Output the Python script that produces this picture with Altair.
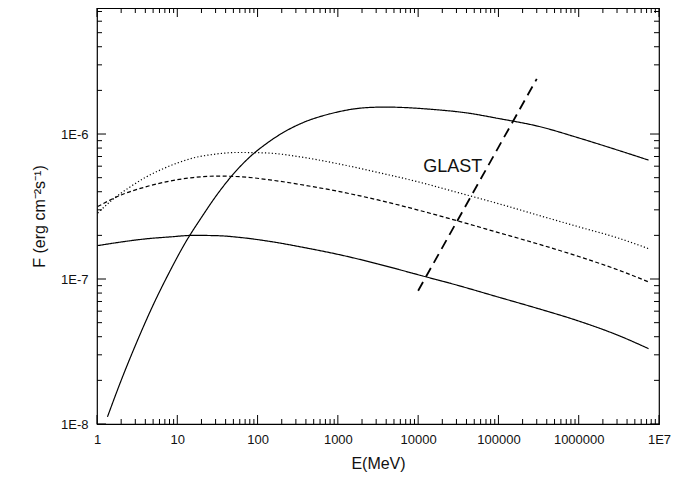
import math
import altair as alt
import pandas as pd

# ---- curve data (E in MeV, F in erg cm^-2 s^-1) ----
steep_E = [1.35, 2.0, 3.16, 5.0, 7.94, 12.6, 20, 31.6, 50.1, 79.4, 126, 200, 398, 631, 1000,
           1585, 2512, 3981, 6310, 15850, 39800, 1e5, 3.16e5, 1e6, 3.16e6, 7.41e6]
steep_F = [1.12e-8, 2.0e-8, 3.72e-8, 6.61e-8, 1.11e-7, 1.78e-7, 2.66e-7, 3.85e-7, 5.31e-7,
           6.92e-7, 8.51e-7, 1.01e-6, 1.22e-6, 1.33e-6, 1.42e-6, 1.49e-6, 1.525e-6, 1.535e-6,
           1.525e-6, 1.475e-6, 1.40e-6, 1.28e-6, 1.13e-6, 9.4e-7, 7.7e-7, 6.61e-7]

dotted_E = [1.02, 1.58, 2.51, 3.98, 6.31, 10, 15.8, 28.2, 56.2, 126, 316, 1000, 3162, 1e4,
            31623, 1e5, 316228, 1e6, 3.16e6, 7.41e6]
dotted_F = [2.85e-7, 3.55e-7, 4.27e-7, 5.01e-7, 5.69e-7, 6.31e-7, 6.84e-7, 7.24e-7, 7.46e-7,
            7.41e-7, 7.0e-7, 6.24e-7, 5.43e-7, 4.68e-7, 3.94e-7, 3.31e-7, 2.75e-7, 2.29e-7,
            1.91e-7, 1.62e-7]

dashed_E = [1.02, 2.0, 3.98, 7.94, 15.8, 31.6, 63.1, 158, 398, 1000, 3162, 1e4, 31623, 1e5,
            316228, 1e6, 3.16e6, 7.41e6]
dashed_F = [3.16e-7, 3.80e-7, 4.31e-7, 4.73e-7, 5.01e-7, 5.13e-7, 5.07e-7, 4.79e-7, 4.42e-7,
            4.03e-7, 3.51e-7, 2.99e-7, 2.51e-7, 2.09e-7, 1.74e-7, 1.43e-7, 1.15e-7, 9.55e-8]

low_E = [1.02, 2.0, 3.98, 7.94, 15.8, 31.6, 63.1, 158, 398, 1000, 3162, 1e4, 31623, 1e5,
         316228, 1e6, 3.16e6, 7.41e6]
low_F = [1.70e-7, 1.80e-7, 1.89e-7, 1.95e-7, 2.0e-7, 1.99e-7, 1.93e-7, 1.80e-7, 1.64e-7,
         1.48e-7, 1.27e-7, 1.07e-7, 9.02e-8, 7.50e-8, 6.24e-8, 5.13e-8, 4.07e-8, 3.31e-8]

glast_E = [1e4, 3e5]
glast_F = [8.3e-8, 2.4e-6]
glast_label = ["GLAST"]
glast_label_E = [2.7e4]
glast_label_F = [5.9e-7]

series_names = ["steep", "dotted", "dashed", "low"]

x_ticks = [1, 10, 100, 1000, 10000, 100000, 1000000, 10000000]
x_tick_labels = ["1", "10", "100", "1000", "10000", "100000", "1000000", "1E7"]
y_ticks = [1e-8, 1e-7, 1e-6]
y_tick_labels = ["1E-8", "1E-7", "1E-6"]
minor_mult = [2, 3, 4, 5, 6, 7, 8, 9]

x_domain = [1, 1e7]
y_domain = [1e-8, 7.4e-6]

W, H = 562, 416
FONT = "Liberation Sans"

# ---- tables ----
rows = []
for name, es, fs in zip(series_names, [steep_E, dotted_E, dashed_E, low_E],
                        [steep_F, dotted_F, dashed_F, low_F]):
    for e, f in zip(es, fs):
        rows.append({"E": e, "F": f, "series": name})
curves = pd.DataFrame(rows)
glast = pd.DataFrame({"E": glast_E, "F": glast_F})
label_df = pd.DataFrame({"E": glast_label_E, "F": glast_label_F, "t": glast_label})

x_minor = [m * d for d in x_ticks[:-1] for m in minor_mult]
y_minor = [m * d for d in y_ticks for m in minor_mult if m * d <= y_domain[1]]


def label_expr(vals, labels):
    expr = "''"
    for v, l in zip(reversed(vals), reversed(labels)):
        expr = f"abs(log(datum.value)/LN10 - ({math.log10(v)})) < 0.01 ? '{l}' : ({expr})"
    return expr


xscale = alt.Scale(type="log", domain=x_domain, nice=False)
yscale = alt.Scale(type="log", domain=y_domain, nice=False)

x_axis = alt.Axis(values=x_ticks, labelExpr=label_expr(x_ticks, x_tick_labels),
                  ticks=False, domain=False, grid=False,
                  labelPadding=9, labelFontSize=13, labelFont=FONT, labelColor="#111",
                  title="E(MeV)", titleFont=FONT, titleFontSize=16, titleFontWeight="normal",
                  titlePadding=9, titleColor="#111", labelFlush=False, labelOverlap=False)
y_axis = alt.Axis(values=y_ticks, labelExpr=label_expr(y_ticks, y_tick_labels),
                  ticks=False, domain=False, grid=False,
                  labelPadding=9, labelFontSize=13, labelFont=FONT, labelColor="#111",
                  title="F (erg cm\u207b\u00b2s\u207b\u00b9)", titleFont=FONT, titleFontSize=16,
                  titleFontWeight="normal", titlePadding=13, titleColor="#111",
                  labelFlush=False, labelOverlap=False)

X = lambda f: alt.X(f, scale=xscale, axis=x_axis)
Y = lambda f: alt.Y(f, scale=yscale, axis=y_axis)

lines = alt.Chart(curves).mark_line(color="black", interpolate="monotone", strokeWidth=1.2).encode(
    x=X("E:Q"),
    y=Y("F:Q"),
    detail="series:N",
    strokeDash=alt.StrokeDash("series:N", legend=None,
                              scale=alt.Scale(domain=series_names,
                                              range=[[1, 0], [1.2, 2.2], [4, 2.5], [1, 0]])),
)

glast_line = alt.Chart(glast).mark_line(color="black", strokeWidth=1.8, strokeDash=[10, 6]).encode(
    x=X("E:Q"), y=Y("F:Q"),
)

glast_text = alt.Chart(label_df).mark_text(font=FONT, fontSize=18, color="#111",
                                           align="center", baseline="middle").encode(
    x=X("E:Q"), y=Y("F:Q"), text="t:N",
)


def xtick_layer(vals, length, top):
    return alt.Chart(pd.DataFrame({"E": vals})).mark_rule(color="black", strokeWidth=1).encode(
        x=X("E:Q"),
        y=alt.value(0 if top else H),
        y2=alt.value(length if top else H - length),
    )


def ytick_layer(vals, length, right):
    return alt.Chart(pd.DataFrame({"F": vals})).mark_rule(color="black", strokeWidth=1).encode(
        y=Y("F:Q"),
        x=alt.value(W if right else 0),
        x2=alt.value(W - length if right else length),
    )


MAJ, MIN = 9, 5
tick_layers = [
    xtick_layer(x_ticks, MAJ, False), xtick_layer(x_minor, MIN, False),
    xtick_layer(x_ticks, MAJ, True), xtick_layer(x_minor, MIN, True),
    ytick_layer(y_ticks, MAJ, False), ytick_layer(y_minor, MIN, False),
    ytick_layer(y_ticks, MAJ, True), ytick_layer(y_minor, MIN, True),
]

chart = alt.layer(lines, glast_line, glast_text, *tick_layers).properties(
    width=W, height=H,
    autosize=alt.AutoSizeParams(type="none"),
    padding={"left": 89, "top": 0, "right": 20, "bottom": 54},
    background="white",
).configure_view(stroke="black", strokeWidth=1.2)

chart.save("out.html", embed_options={"renderer": "svg", "actions": False})
